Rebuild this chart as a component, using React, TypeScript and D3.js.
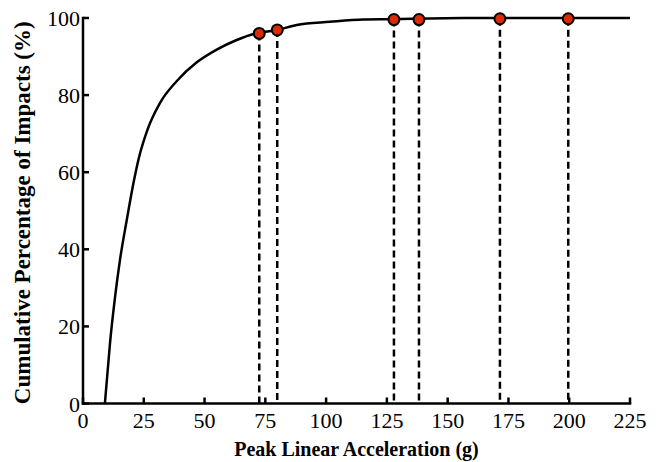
import React from "react";
import * as d3 from "d3";

const curveX = [9, 11.1, 13.2, 15.2, 18.0, 20.7, 22.9, 26.5, 31.7, 38.5, 46.8, 55.0, 63.2, 70.8, 79.9, 87.9, 101.6, 115.3, 126.3, 142.7, 160, 225];
const curveY = [0, 15.6, 27.7, 37.2, 47.6, 57.0, 63.5, 71.0, 78.0, 83.6, 88.5, 91.8, 94.3, 96, 96.9, 98.2, 99.0, 99.6, 99.7, 99.9, 100, 100];

const pointX = [72.5, 79.9, 127.9, 138.2, 171.5, 199.6];
const pointY = [96.0, 96.9, 99.6, 99.6, 99.8, 99.8];

const xTicks = [0, 25, 50, 75, 100, 125, 150, 175, 200, 225];
const yTicks = [0, 20, 40, 60, 80, 100];

const W = 660;
const H = 462;
const margin = { left: 83, right: 30, top: 18, bottom: 58.5 };

export default function App() {
  const x = d3.scaleLinear().domain([0, 225]).range([margin.left, W - margin.right]);
  const y = d3.scaleLinear().domain([0, 100]).range([H - margin.bottom, margin.top]);
  const line = d3
    .line<number>()
    .x((_, i) => x(curveX[i]))
    .y((d) => y(d))
    .curve(d3.curveMonotoneX);
  const path = line(curveY) || "";
  const font = "'Liberation Serif', 'Times New Roman', serif";
  const y0 = y(0);
  const x0 = x(0);
  return (
    <svg width={W} height={H} style={{ position: "absolute", left: 0, top: 0, background: "#fff" }}>
      <path d={path} fill="none" stroke="#000" strokeWidth={2.5} />
      {pointX.map((px, i) => (
        <line key={"d" + i} x1={x(px)} x2={x(px)} y1={y(pointY[i])} y2={y0} stroke="#000" strokeWidth={2.5} strokeDasharray="7,4" />
      ))}
      {pointX.map((px, i) => (
        <circle key={"c" + i} cx={x(px)} cy={y(pointY[i])} r={5.5} fill="#dd2a00" stroke="#000" strokeWidth={2} />
      ))}
      <line x1={x0} x2={x(225)} y1={y0} y2={y0} stroke="#000" strokeWidth={2.5} strokeLinecap="square" />
      <line x1={x0} x2={x0} y1={y0} y2={y(100)} stroke="#000" strokeWidth={2.5} strokeLinecap="square" />
      {xTicks.map((t) => (
        <g key={"xt" + t}>
          <line x1={x(t)} x2={x(t)} y1={y0} y2={y0 - 6} stroke="#000" strokeWidth={2.5} />
          <text x={x(t)} y={428} textAnchor="middle" fontFamily={font} fontSize={22}>
            {t}
          </text>
        </g>
      ))}
      {yTicks.map((t) => (
        <g key={"yt" + t}>
          <line x1={x0} x2={x0 + 6} y1={y(t)} y2={y(t)} stroke="#000" strokeWidth={2.5} />
          <text x={x0 - 3} y={y(t) + 8} textAnchor="end" fontFamily={font} fontSize={22}>
            {t}
          </text>
        </g>
      ))}
      <text x={(x0 + x(225)) / 2} y={456} textAnchor="middle" fontFamily={font} fontSize={20} fontWeight="bold">
        Peak Linear Acceleration (g)
      </text>
      <text
        transform={`translate(30,${(y0 + y(100)) / 2 + 2}) rotate(-90)`}
        textAnchor="middle"
        fontFamily={font}
        fontSize={23}
        fontWeight="bold"
      >
        Cumulative Percentage of Impacts (%)
      </text>
    </svg>
  );
}
